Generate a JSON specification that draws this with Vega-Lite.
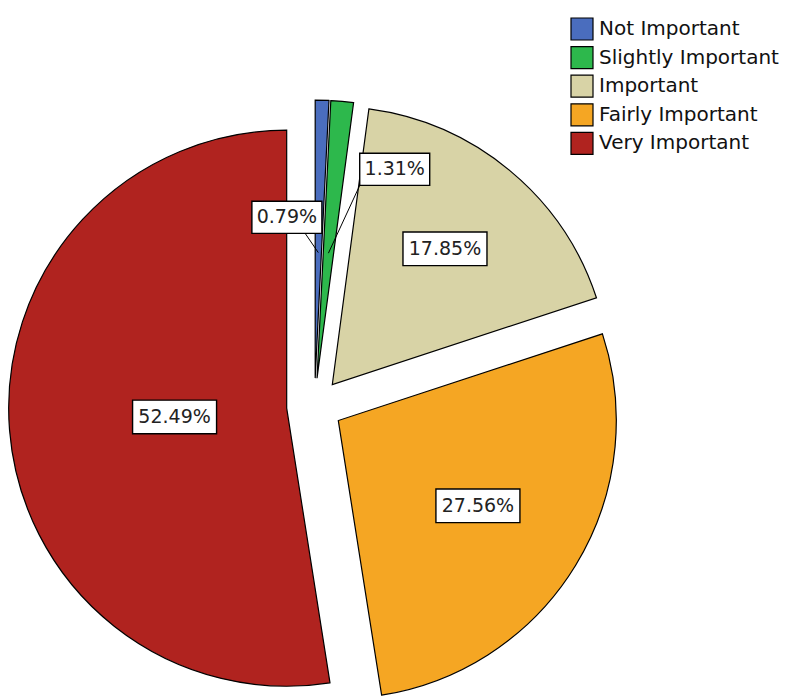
{
  "$schema": "https://vega.github.io/schema/vega-lite/v6.json",
  "width": 800,
  "height": 696,
  "padding": 0,
  "autosize": {"type": "none"},
  "background": "white",
  "config": {"view": {"stroke": null}},
  "data": {
    "values": [
      {"category": "Not Important", "pct": 0.79, "order": 1},
      {"category": "Slightly Important", "pct": 1.31, "order": 2},
      {"category": "Important", "pct": 17.85, "order": 3},
      {"category": "Fairly Important", "pct": 27.56, "order": 4},
      {"category": "Very Important", "pct": 52.49, "order": 5}
    ]
  },
  "transform": [
    {"window": [{"op": "sum", "field": "pct", "as": "cum"}], "sort": [{"field": "order"}], "frame": [null, 0]},
    {"calculate": "datum.cum - datum.pct", "as": "start"},
    {"calculate": "(datum.start + datum.cum) / 100 * PI", "as": "mid"},
    {"calculate": "0.1 * sin(datum.mid)", "as": "ox"},
    {"calculate": "0.1 * cos(datum.mid)", "as": "oy"},
    {"calculate": "datum.pct / 100 * PI", "as": "h"},
    {"calculate": "2 * sin(datum.h) / (3 * datum.h)", "as": "d"},
    {"calculate": "datum.ox + datum.d * sin(datum.mid) + (datum.pct < 1 ? -0.118 : datum.pct < 2 ? 0.218 : 0)", "as": "lx"},
    {"calculate": "datum.oy + datum.d * cos(datum.mid) + (datum.pct < 1 ? -0.09 : datum.pct < 2 ? 0.085 : 0)", "as": "ly"},
    {"calculate": "datum.lx + (datum.pct < 1 ? 0.065 : -0.125)", "as": "sx"},
    {"calculate": "datum.ly - 0.057", "as": "sy"},
    {"calculate": "datum.ox + 0.45 * sin(datum.mid)", "as": "ax"},
    {"calculate": "datum.oy + 0.45 * cos(datum.mid)", "as": "ay"},
    {"calculate": "format(datum.pct, '.2f') + '%'", "as": "label"}
  ],
  "layer": [
    {
      "mark": {"type": "arc", "outerRadius": 278, "stroke": "black", "strokeWidth": 1.2},
      "encoding": {
        "x": {"field": "ox", "type": "quantitative", "scale": {"domain": [-1.1272, 1.7401], "nice": false, "zero": false}, "axis": null},
        "y": {"field": "oy", "type": "quantitative", "scale": {"domain": [-1.0394, 1.4552], "nice": false, "zero": false}, "axis": null},
        "theta": {"field": "start", "type": "quantitative", "stack": null, "scale": {"domain": [0, 100], "range": [0, 6.283185307179586]}},
        "theta2": {"field": "cum"},
        "color": {
          "field": "category",
          "type": "nominal",
          "sort": ["Not Important", "Slightly Important", "Important", "Fairly Important", "Very Important"],
          "scale": {
            "domain": ["Not Important", "Slightly Important", "Important", "Fairly Important", "Very Important"],
            "range": ["#4a6dbe", "#2db84c", "#d8d3a6", "#f5a623", "#b0231f"]
          },
          "legend": {
            "title": null,
            "orient": "none",
            "legendX": 570,
            "legendY": 17,
            "padding": 0,
            "symbolType": "square",
            "symbolSize": 484,
            "symbolStrokeColor": "black",
            "symbolStrokeWidth": 1.2,
            "symbolOffset": 0,
            "labelOffset": 5,
            "labelFont": "DejaVu Sans",
            "labelFontSize": 20,
            "labelColor": "#111",
            "labelLimit": 400,
            "rowPadding": 0.6
          }
        }
      }
    },
    {
      "transform": [{"filter": "datum.pct < 2"}],
      "mark": {"type": "rule", "color": "black", "strokeWidth": 1},
      "encoding": {
        "x": {"field": "sx", "type": "quantitative", "scale": {"domain": [-1.1272, 1.7401], "nice": false, "zero": false}, "axis": null},
        "y": {"field": "sy", "type": "quantitative", "scale": {"domain": [-1.0394, 1.4552], "nice": false, "zero": false}, "axis": null},
        "x2": {"field": "ax"},
        "y2": {"field": "ay"}
      }
    },
    {
      "transform": [{"filter": "datum.pct >= 10"}],
      "mark": {"type": "point", "shape": "M-1,-0.4H1V0.4H-1Z", "size": 7056, "filled": true, "fill": "white", "stroke": "black", "strokeWidth": 1.4, "opacity": 1},
      "encoding": {
        "x": {"field": "lx", "type": "quantitative", "scale": {"domain": [-1.1272, 1.7401], "nice": false, "zero": false}, "axis": null},
        "y": {"field": "ly", "type": "quantitative", "scale": {"domain": [-1.0394, 1.4552], "nice": false, "zero": false}, "axis": null}
      }
    },
    {
      "transform": [{"filter": "datum.pct < 10"}],
      "mark": {"type": "point", "shape": "M-1,-0.46H1V0.46H-1Z", "size": 4900, "filled": true, "fill": "white", "stroke": "black", "strokeWidth": 1.4, "opacity": 1},
      "encoding": {
        "x": {"field": "lx", "type": "quantitative", "scale": {"domain": [-1.1272, 1.7401], "nice": false, "zero": false}, "axis": null},
        "y": {"field": "ly", "type": "quantitative", "scale": {"domain": [-1.0394, 1.4552], "nice": false, "zero": false}, "axis": null}
      }
    },
    {
      "mark": {"type": "text", "font": "DejaVu Sans", "fontSize": 19, "color": "#222", "baseline": "middle", "align": "center"},
      "encoding": {
        "x": {"field": "lx", "type": "quantitative", "scale": {"domain": [-1.1272, 1.7401], "nice": false, "zero": false}, "axis": null},
        "y": {"field": "ly", "type": "quantitative", "scale": {"domain": [-1.0394, 1.4552], "nice": false, "zero": false}, "axis": null},
        "text": {"field": "label"}
      }
    }
  ]
}
